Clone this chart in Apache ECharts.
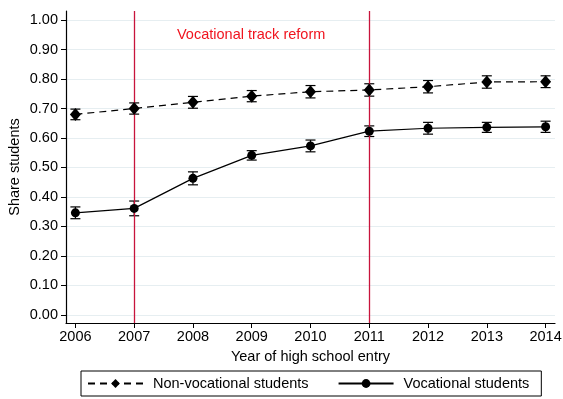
<!DOCTYPE html>
<html>
<head>
<meta charset="utf-8">
<script src="https://cdn.jsdelivr.net/npm/echarts@6/dist/echarts.min.js"></script>
<style>
  html, body { margin: 0; padding: 0; background: #fff; }
  #chart { width: 563px; height: 399px; }
</style>
</head>
<body>
<div id="chart"></div>
<script>
// Year of high school entry
const years = [2006, 2007, 2008, 2009, 2010, 2011, 2012, 2013, 2014];
// Share of students, point estimates
const nonVocational = [0.680, 0.700, 0.721, 0.742, 0.757, 0.763, 0.774, 0.790, 0.791];
const vocational    = [0.346, 0.361, 0.463, 0.541, 0.573, 0.623, 0.633, 0.636, 0.638];
// Confidence interval half-widths
const nonVocationalCI = [0.018, 0.019, 0.020, 0.019, 0.021, 0.021, 0.021, 0.021, 0.020];
const vocationalCI    = [0.020, 0.025, 0.022, 0.016, 0.020, 0.018, 0.020, 0.017, 0.019];
// Reform years marked with vertical lines
const reformYears = [2007, 2011];
const yTicks = [0, 0.1, 0.2, 0.3, 0.4, 0.5, 0.6, 0.7, 0.8, 0.9, 1.0];

const FONT = 'Liberation Sans, Arial, Helvetica, sans-serif';
const FS = 14.5;

function ciData(vals, ci) {
  return years.map((y, i) => [y, vals[i] - ci[i], vals[i] + ci[i]]);
}

function renderErrorBar(params, api) {
  const x = api.value(0);
  const lo = api.coord([x, api.value(1)]);
  const hi = api.coord([x, api.value(2)]);
  const half = 5;
  const style = { stroke: '#000', lineWidth: 1.2, fill: null };
  return {
    type: 'group',
    children: [
      { type: 'line', shape: { x1: lo[0], y1: lo[1], x2: hi[0], y2: hi[1] }, style },
      { type: 'line', shape: { x1: lo[0] - half, y1: lo[1], x2: lo[0] + half, y2: lo[1] }, style },
      { type: 'line', shape: { x1: hi[0] - half, y1: hi[1], x2: hi[0] + half, y2: hi[1] }, style }
    ]
  };
}

const chart = echarts.init(document.getElementById('chart'), null, { renderer: 'canvas' });

chart.setOption({
  animation: false,
  backgroundColor: '#fff',
  textStyle: { fontFamily: FONT },
  title: {
    text: 'Vocational track reform',
    left: 177,
    top: 27,
    padding: 0,
    textStyle: { color: '#f0141e', fontSize: FS, fontWeight: 'normal', fontFamily: FONT }
  },
  grid: { left: 66, right: 8, top: 11, bottom: 76, containLabel: false, outerBoundsMode: 'none' },
  xAxis: {
    type: 'value',
    min: 2005.84,
    max: 2014.16,
    name: 'Year of high school entry',
    nameLocation: 'middle',
    nameGap: 26,
    nameMoveOverlap: false,
    nameTextStyle: { color: '#000', fontSize: FS, fontFamily: FONT },
    axisLine: { show: true, onZero: false, lineStyle: { color: '#000', width: 1.2 } },
    axisTick: { show: true, length: 5, customValues: years, lineStyle: { color: '#000' } },
    axisLabel: {
      customValues: years, color: '#000', fontSize: FS, margin: 6, fontFamily: FONT,
      formatter: v => String(Math.round(v))
    },
    splitLine: { show: false }
  },
  yAxis: {
    type: 'value',
    min: -0.028,
    max: 1.031,
    name: 'Share students',
    nameLocation: 'middle',
    nameGap: 44,
    nameMoveOverlap: false,
    nameTextStyle: { color: '#000', fontSize: FS, fontFamily: FONT },
    axisLine: { show: true, onZero: false, lineStyle: { color: '#000', width: 1.2 } },
    axisTick: { show: true, length: 5, customValues: yTicks, lineStyle: { color: '#000' } },
    axisLabel: {
      customValues: yTicks, color: '#000', fontSize: FS, margin: 8, fontFamily: FONT,
      formatter: v => v.toFixed(2)
    },
    splitLine: { show: true, lineStyle: { color: '#e6eef1', width: 1 } }
  },
  legend: {
    left: 81,
    top: 371,
    orient: 'horizontal',
    data: ['Non-vocational students', 'Vocational students'],
    itemWidth: 55,
    itemHeight: 11,
    itemGap: 29,
    padding: [5, 12, 5, 6],
    borderColor: '#000',
    borderWidth: 1,
    borderRadius: 0,
    textStyle: { color: '#000', fontSize: FS, fontFamily: FONT, padding: [0, 0, 0, 5] }
  },
  series: [
    {
      name: 'Non-vocational students',
      type: 'line',
      data: years.map((y, i) => [y, nonVocational[i]]),
      symbol: 'diamond',
      symbolSize: [11, 13],
      itemStyle: { color: '#000' },
      lineStyle: { color: '#000', width: 1.2, type: [7, 5] },
      z: 5,
      markLine: {
        silent: true,
        symbol: 'none',
        label: { show: false },
        lineStyle: { color: '#c8143c', width: 1.3, type: 'solid' },
        data: reformYears.map(y => ({ xAxis: y }))
      }
    },
    {
      name: 'Vocational students',
      type: 'line',
      data: years.map((y, i) => [y, vocational[i]]),
      symbol: 'circle',
      symbolSize: 9,
      itemStyle: { color: '#000' },
      lineStyle: { color: '#000', width: 1.2, type: 'solid' },
      z: 5
    },
    {
      type: 'custom',
      renderItem: renderErrorBar,
      data: ciData(nonVocational, nonVocationalCI),
      encode: { x: 0, y: [1, 2] },
      z: 4
    },
    {
      type: 'custom',
      renderItem: renderErrorBar,
      data: ciData(vocational, vocationalCI),
      encode: { x: 0, y: [1, 2] },
      z: 4
    }
  ]
});
</script>
</body>
</html>
